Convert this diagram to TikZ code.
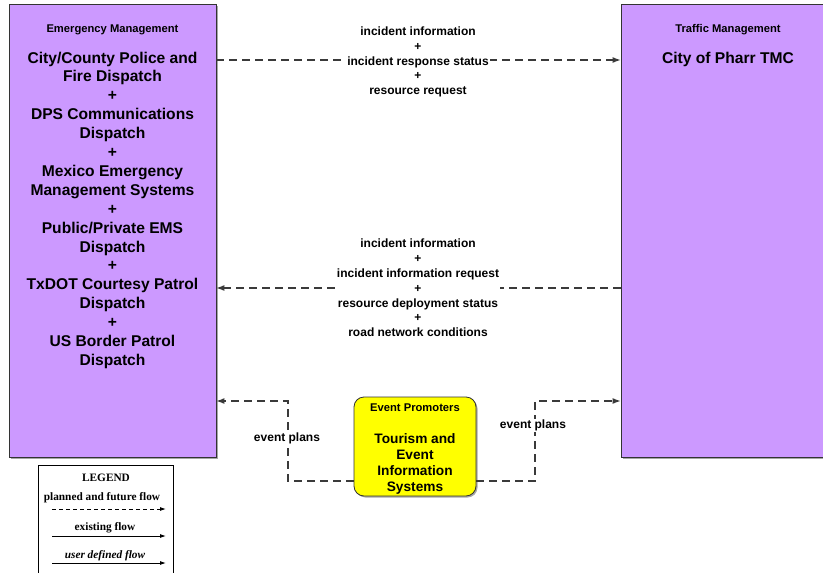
\documentclass[tikz,border=0pt]{standalone}
\usepackage{fontspec}
\setmainfont{Liberation Sans}
\newfontfamily\legfont{Liberation Serif}
\usetikzlibrary{arrows.meta,shadows,positioning}
\definecolor{boxpurple}{HTML}{CC99FF}
\definecolor{boxyellow}{HTML}{FFFF00}
\definecolor{flowgray}{HTML}{3A3A3A}
\tikzset{
  sysbox/.style={draw=black!80, line width=0.8pt, fill=boxpurple, inner sep=0pt,
    drop shadow={shadow xshift=1.5pt, shadow yshift=-1.5pt, fill=black!35, opacity=1}},
  evbox/.style={draw=black!80, line width=0.8pt, fill=boxyellow, rounded corners=10pt, inner sep=0pt,
    drop shadow={shadow xshift=1.5pt, shadow yshift=-1.5pt, fill=black!35, opacity=1}},
  titletext/.style={font=\bfseries\fontsize{11.2}{13}\selectfont, align=center, inner sep=0pt},
  maintext/.style={font=\bfseries\fontsize{15.6}{18.9}\selectfont, align=center, inner sep=0pt},
  evtext/.style={font=\bfseries\fontsize{13.7}{16}\selectfont, align=center, inner sep=0pt},
  flowlabel/.style={font=\bfseries\fontsize{12}{14.8}\selectfont, align=center, fill=white, inner sep=1pt},
  flow/.style={draw=flowgray, line width=1.2pt, dash pattern=on 8pt off 5pt, -{Latex[length=8pt,width=6pt]}},
  legtext/.style={font=\legfont\bfseries\fontsize{11.3}{13}\selectfont, inner sep=0pt},
  legarrow/.style={draw=black, line width=0.9pt, -{Latex[length=6pt,width=4pt]}}
}
\begin{document}
\begin{tikzpicture}[x=1pt,y=-1pt]
\useasboundingbox (0,0) rectangle (823,573);
% boxes
\node[sysbox, minimum width=207pt, minimum height=453pt] (em) at (112.5,230.5) {};
\node[sysbox, minimum width=214pt, minimum height=453pt] (tm) at (728,230.5) {};
\node[evbox, minimum width=122pt, minimum height=99pt] (ep) at (415,446.5) {};
% texts
\node[titletext] (emt) at (112.5,30) {Emergency Management};
\node[maintext, anchor=north] (emm) at (112.5,51.5) {City/County Police and\\Fire Dispatch\\+\\DPS Communications\\Dispatch\\+\\Mexico Emergency\\Management Systems\\+\\Public/Private EMS\\Dispatch\\+\\TxDOT Courtesy Patrol\\Dispatch\\+\\US Border Patrol\\Dispatch};
\node[titletext] (tmt) at (728,30) {Traffic Management};
\node[maintext] (tmm) at (728,59) {City of Pharr TMC};
\node[titletext] (ept) at (415,408) {Event Promoters};
\node[evtext, anchor=north] (epm) at (415,433) {Tourism and\\Event\\Information\\Systems};
% flows
\draw[flow] (em.east |- 0,60) -- (tm.west |- 0,60);
\node[flowlabel] (l1) at (418,62) {incident information\\+\\incident response status\\+\\resource request};
\draw[flow] (tm.west |- 0,288) -- (em.east |- 0,288);
\node[flowlabel] (l2) at (418,288) {incident information\\+\\incident information request\\+\\resource deployment status\\+\\road network conditions};
\coordinate (c3a) at (288,481);
\coordinate (c3b) at (288,401);
\draw[flow] (ep.west |- c3a) -- (c3a) -- (c3b) -- (em.east |- c3b);
\node[flowlabel] (l3) at (287,438.5) {event plans};
\coordinate (c4a) at (535,481);
\coordinate (c4b) at (535,401);
\draw[flow] (ep.east |- c4a) -- (c4a) -- (c4b) -- (tm.west |- c4b);
\node[flowlabel] (l4) at (533,425.5) {event plans};
% legend
\node[draw=black, line width=0.8pt, fill=white, minimum width=135pt, minimum height=120pt, inner sep=0pt] (leg) at (105.5,525) {};
\node[legtext] (legt) at (106,478) {LEGEND};
\node[legtext] (lg1) at (102,497.5) {planned and future flow};
\coordinate (a1s) at (52,509); \coordinate (a1e) at (166,509);
\draw[legarrow, dash pattern=on 4pt off 3pt] (a1s) -- (a1e);
\node[legtext] (lg2) at (105,527.5) {existing flow};
\coordinate (a2s) at (52,536); \coordinate (a2e) at (166,536);
\draw[legarrow] (a2s) -- (a2e);
\node[legtext, font=\legfont\bfseries\itshape\fontsize{11.3}{13}\selectfont] (lg3) at (105,555.5) {user defined flow};
\coordinate (a3s) at (52,563); \coordinate (a3e) at (166,563);
\draw[legarrow] (a3s) -- (a3e);
\end{tikzpicture}
\end{document}
